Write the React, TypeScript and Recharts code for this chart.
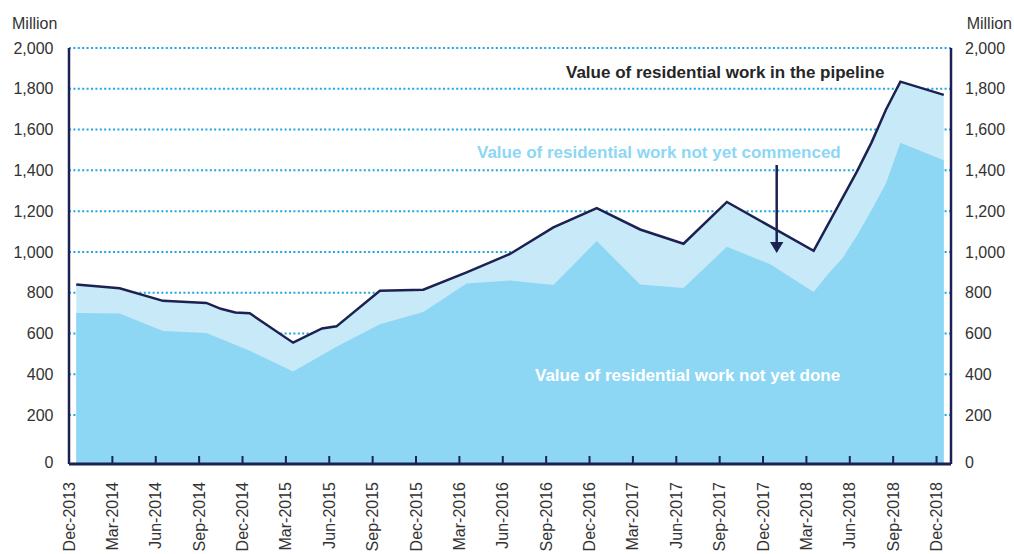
import React from "react";
import {
	ComposedChart,
	Area,
	XAxis,
	YAxis,
	CartesianGrid,
} from "recharts";

// quarterly tick labels, month index 0 = Dec-2013
const quarterLabels = [
	"Dec-2013", "Mar-2014", "Jun-2014", "Sep-2014", "Dec-2014", "Mar-2015", "Jun-2015",
	"Sep-2015", "Dec-2015", "Mar-2016", "Jun-2016", "Sep-2016", "Dec-2016", "Mar-2017",
	"Jun-2017", "Sep-2017", "Dec-2017", "Mar-2018", "Jun-2018", "Sep-2018", "Dec-2018",
];
const quarterMonths = quarterLabels.map((_, i) => i * 3);

// value of residential work in the pipeline (million)
const pipelineMonths = [0, 3, 6, 9, 10, 11, 12, 15, 17, 18, 21, 24, 27, 30, 33, 36, 39, 42, 45, 48, 51, 54, 55, 56, 57, 60];
const pipelineValues = [840, 822, 760, 750, 721, 703, 699, 555, 625, 635, 810, 815, 900, 990, 1120, 1215, 1110, 1040, 1245, 1125, 1005, 1395, 1536, 1697, 1835, 1770];

// value of residential work not yet done (million)
const notDoneMonths = [0, 3, 6, 9, 12, 15, 18, 21, 24, 27, 30, 33, 36, 39, 42, 45, 48, 51, 52, 53, 54, 55, 56, 57, 60];
const notDoneValues = [700, 698, 612, 602, 515, 413, 535, 645, 705, 845, 860, 838, 1053, 840, 823, 1025, 940, 803, 892, 970, 1081, 1204, 1336, 1535, 1450];

const yTicks = [0, 200, 400, 600, 800, 1000, 1200, 1400, 1600, 1800, 2000];
const yDomain = [-40, 2000];

// points sit mid-month, ticks at month start
const pipelineData = pipelineMonths.map((m, i) => ({ x: m + 0.5, pipeline: pipelineValues[i] }));
const notDoneData = notDoneMonths.map((m, i) => ({ x: m + 0.5, notDone: notDoneValues[i] }));

const NAVY = "#1b2150";
const TEXT = "#333333";
const FONT = "'Liberation Sans', Arial, sans-serif";

const XTick = ({ x, y, payload }: any) => {
	const idx = quarterMonths.indexOf(payload.value);
	return (
		<g>
			{idx > 0 && <line x1={x} x2={x} y1={y} y2={y - 8} stroke={NAVY} strokeWidth={2} />}
			<text
				x={x}
				y={y + 18}
				dy="0.35em"
				textAnchor="end"
				transform={`rotate(-90, ${x}, ${y + 18})`}
				fontSize={16}
				fill={TEXT}
				fontFamily={FONT}
			>
				{quarterLabels[idx]}
			</text>
		</g>
	);
};

const LeftTick = ({ x, y, payload }: any) => (
	<text x={x - 15.5} y={payload.value === 0 ? y + 7 : y} dy="0.35em" textAnchor="end" fontSize={16} fill={TEXT} fontFamily={FONT}>
		{payload.value.toLocaleString("en-US")}
	</text>
);

const RightTick = ({ x, y, payload }: any) => (
	<text x={x + 14} y={payload.value === 0 ? y + 7 : y} dy="0.35em" textAnchor="start" fontSize={16} fill={TEXT} fontFamily={FONT}>
		{payload.value.toLocaleString("en-US")}
	</text>
);

// gridlines for every tick except 0
const gridLines = ({ offset }: any) =>
	yTicks
		.filter((t) => t > 0)
		.map((t) => offset.top + ((yDomain[1] - t) / (yDomain[1] - yDomain[0])) * offset.height);

export default function App() {
	return (
		<div style={{ position: "absolute", left: 0, top: 0, width: 1014, height: 554, background: "#fff" }}>
			<ComposedChart width={1014} height={554} margin={{ top: 48, right: 0, left: 0, bottom: 0 }}>
				<CartesianGrid
					yAxisId="left"
					vertical={false}
					stroke="#1ea6e4"
					strokeWidth={2}
					strokeDasharray="2 2.4"
					horizontalCoordinatesGenerator={gridLines}
				/>
				<XAxis
					type="number"
					dataKey="x"
					domain={[0, 61]}
					ticks={quarterMonths}
					interval={0}
					height={90}
					tickSize={0}
					tickMargin={0}
					tickLine={false}
					tick={<XTick />}
					axisLine={{ stroke: NAVY, strokeWidth: 3 }}
					allowDataOverflow
				/>
				<YAxis
					yAxisId="left"
					orientation="left"
					width={69}
					domain={yDomain}
					ticks={yTicks}
					interval={0}
					tickSize={0}
					tickMargin={0}
					tickLine={false}
					tick={<LeftTick />}
					axisLine={{ stroke: NAVY, strokeWidth: 2.5 }}
					allowDataOverflow
				/>
				<YAxis
					yAxisId="right"
					orientation="right"
					width={63}
					domain={yDomain}
					ticks={yTicks}
					interval={0}
					tickSize={0}
					tickMargin={0}
					tickLine={false}
					tick={<RightTick />}
					axisLine={{ stroke: NAVY, strokeWidth: 2.5 }}
					allowDataOverflow
				/>
				<Area
					yAxisId="left"
					data={pipelineData}
					dataKey="pipeline"
					type="linear"
					baseValue={-40}
					fill="#c8e9f8"
					fillOpacity={1}
					stroke={NAVY}
					strokeWidth={2.5}
					isAnimationActive={false}
				/>
				<Area
					yAxisId="right"
					data={notDoneData}
					dataKey="notDone"
					type="linear"
					baseValue={-40}
					fill="#8dd7f5"
					fillOpacity={1}
					stroke="none"
					isAnimationActive={false}
				/>
			</ComposedChart>
			<svg width={1014} height={554} style={{ position: "absolute", left: 0, top: 0, pointerEvents: "none" }}>
				<g fontFamily={FONT}>
					<text x={12} y={23} dy="0.35em" fontSize={16} fill={TEXT}>Million</text>
					<text x={1012} y={23} dy="0.35em" fontSize={16} fill={TEXT} textAnchor="end">Million</text>
					<text x={566} y={72} dy="0.35em" fontSize={17} fontWeight="bold" fill="#262626">
						Value of residential work in the pipeline
					</text>
					<text x={477} y={152} dy="0.35em" fontSize={17} fontWeight="bold" fill="#8dd7f5">
						Value of residential work not yet commenced
					</text>
					<text x={535} y={375} dy="0.35em" fontSize={17} fontWeight="bold" fill="#ffffff">
						Value of residential work not yet done
					</text>
				</g>
				<line x1={776.7} x2={776.7} y1={165} y2={244} stroke={NAVY} strokeWidth={2.5} />
				<polygon points="770,242 783.4,242 776.7,253" fill={NAVY} />
			</svg>
		</div>
	);
}
